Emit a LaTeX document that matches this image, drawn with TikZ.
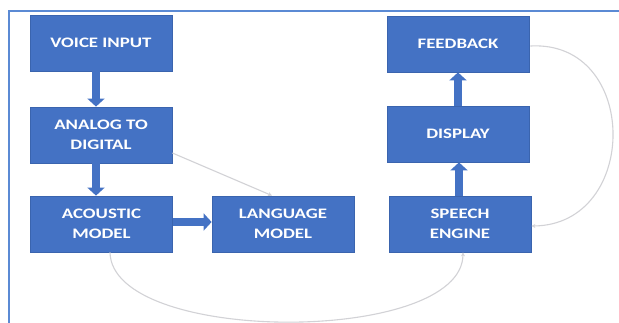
\documentclass[tikz,border=0pt]{standalone}
\usepackage{fontspec}
\newfontfamily\boxfont[FakeStretch=1.3]{Carlito}
\usetikzlibrary{arrows.meta}
\definecolor{boxblue}{HTML}{4472C4}
\definecolor{boxedge}{HTML}{3A64AE}
\definecolor{framecol}{HTML}{5B8AD4}
\definecolor{thin}{HTML}{D2D2D6}
\tikzset{
  box/.style={rectangle, fill=boxblue, draw=boxedge, line width=0.8pt,
    minimum width=142pt, minimum height=56pt, inner sep=0pt,
    text=white, align=center,
    font=\boxfont\bfseries\fontsize{14.5}{20}\selectfont},
  blockarrow/.style={draw=boxblue, line width=8pt,
    -{Triangle[width=17pt,length=8pt]}},
  thinline/.style={draw=thin, line width=1.1pt,
    -{Stealth[length=4pt,width=4pt]}},
  framestyle/.style={draw=framecol, line width=1.6pt}
}
\begin{document}
\begin{tikzpicture}[x=1pt,y=-1pt]
\useasboundingbox (0,0) rectangle (619,323);
\fill[white] (0,0) rectangle (619,323);
% frame
\draw[framestyle] (9,323) -- (9,11) -- (619,11);
% boxes
\node[box] (voice) at (101,43) {VOICE INPUT};
\node[box] (analog) at (101,135) {ANALOG TO\\DIGITAL};
\node[box] (acoustic) at (101.5,224) {ACOUSTIC\\MODEL};
\node[box] (language) at (283,224) {LANGUAGE\\MODEL};
\node[box] (feedback) at (458,44) {FEEDBACK};
\node[box] (display) at (458,134) {DISPLAY};
\node[box] (speech) at (460,224) {SPEECH\\ENGINE};
% block arrows
\draw[blockarrow] ([xshift=-5pt]voice.south) -- ([xshift=-5pt]analog.north);
\draw[blockarrow] ([xshift=-5pt]analog.south) -- ([xshift=-5.5pt]acoustic.north);
\draw[blockarrow] ([yshift=2pt]acoustic.east) -- ([yshift=2pt]language.west);
\draw[blockarrow] ([xshift=-1pt]speech.north) -- ([xshift=1pt]display.south);
\draw[blockarrow] (display.north) -- (feedback.south);
% thin connectors
\draw[thinline] ([yshift=-18pt]analog.east) -- ([xshift=-11pt]language.north);
\draw[thinline] ([xshift=8.5pt]acoustic.south) .. controls (112,345) and (462,345) .. ([xshift=3pt]speech.south);
\draw[thinline] ([yshift=-2pt,xshift=1pt]feedback.east) .. controls (640,40) and (640,225) .. ([yshift=-2pt]speech.east);
\end{tikzpicture}
\end{document}
